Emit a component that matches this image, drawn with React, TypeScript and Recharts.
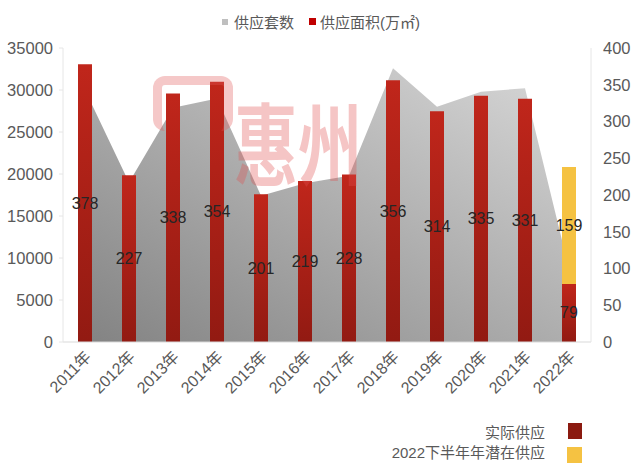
import React from 'react';
import { ComposedChart, Area, Bar, XAxis, YAxis, LabelList } from 'recharts';

// 年份
const years = ['2011年', '2012年', '2013年', '2014年', '2015年', '2016年', '2017年', '2018年', '2019年', '2020年', '2021年', '2022年'];
// 供应套数 (左轴)
const units = [30000, 19000, 27900, 29000, 17400, 18900, 19800, 32600, 28000, 29800, 30200, 8700];
// 供应面积 (万㎡, 右轴) - 实际供应
const actualArea = [378, 227, 338, 354, 201, 219, 228, 356, 314, 335, 331, 79];
// 2022下半年潜在供应
const potentialArea = [null, null, null, null, null, null, null, null, null, null, null, 159];

const leftTicks = [0, 5000, 10000, 15000, 20000, 25000, 30000, 35000];
const rightTicks = [0, 50, 100, 150, 200, 250, 300, 350, 400];

const FONT = 'Arial, "Liberation Sans", "Noto Sans CJK SC", sans-serif';

const chartData = years.map((year, i) => ({
  year,
  units: units[i],
  actual: actualArea[i],
  potential: potentialArea[i],
}));

const XTick = ({ x, y, payload }: any) => (
  <text
    x={0}
    y={0}
    transform={`translate(${x + 7}, ${y + 8}) rotate(-45)`}
    textAnchor="end"
    fontSize={16}
    fontFamily={FONT}
    fill="#595959"
  >
    {payload.value}
  </text>
);

const renderLabel = (props: any) => {
  const { x, y, width, height, value } = props;
  if (value === null || value === undefined) return null;
  return (
    <text
      x={x + width / 2}
      y={y + height / 2}
      textAnchor="middle"
      dominantBaseline="central"
      fontSize={16}
      fontFamily={FONT}
      fill="#262626"
    >
      {value}
    </text>
  );
};

export default function App() {
  return (
    <div style={{ position: 'absolute', left: 0, top: 0, width: 640, height: 476, background: '#fff', fontFamily: FONT, overflow: 'hidden' }}>
      {/* 顶部图例 */}
      <div style={{ position: 'absolute', top: 11, left: 222, display: 'flex', alignItems: 'center', fontSize: 15, color: '#595959', whiteSpace: 'nowrap' }}>
        <span style={{ width: 6, height: 6, background: '#bfbfbf', marginRight: 6 }} />
        <span>供应套数</span>
        <span style={{ width: 7, height: 7, background: '#c00000', marginLeft: 15, marginRight: 4 }} />
        <span>供应面积(万㎡)</span>
      </div>

      <ComposedChart width={640} height={410} data={chartData} margin={{ top: 48, right: 0, bottom: 0, left: 0 }}>
        <defs>
          <linearGradient id="areaFill" x1="0" y1="1" x2="1" y2="0">
            <stop offset="0%" stopColor="#838383" />
            <stop offset="100%" stopColor="#d8d8d8" />
          </linearGradient>
          <linearGradient id="barFill" x1="0" y1="0" x2="0" y2="1">
            <stop offset="0%" stopColor="#c0261b" />
            <stop offset="100%" stopColor="#921a12" />
          </linearGradient>
        </defs>
        <XAxis
          dataKey="year"
          height={68}
          tick={<XTick />}
          tickLine={false}
          axisLine={{ stroke: '#d9d9d9' }}
          interval={0}
        />
        <YAxis
          yAxisId="left"
          width={63}
          domain={[0, 35000]}
          ticks={leftTicks}
          tick={{ fontSize: 16.5, fill: '#595959', fontFamily: FONT }}
          tickLine={{ stroke: '#e6e6e6' }}
          axisLine={{ stroke: '#e6e6e6' }}
          tickSize={4}
          tickMargin={6}
        />
        <YAxis
          yAxisId="right"
          orientation="right"
          width={49}
          domain={[0, 400]}
          ticks={rightTicks}
          tick={{ fontSize: 16.5, fill: '#595959', fontFamily: FONT }}
          tickLine={false}
          axisLine={{ stroke: '#e6e6e6' }}
          tickMargin={6}
        />
        <Area
          yAxisId="left"
          type="linear"
          dataKey="units"
          stroke="none"
          fill="url(#areaFill)"
          fillOpacity={1}
          isAnimationActive={false}
        />
        <Bar yAxisId="right" dataKey="actual" stackId="s" barSize={14} fill="url(#barFill)" isAnimationActive={false}>
          <LabelList dataKey="actual" content={renderLabel} />
        </Bar>
        <Bar yAxisId="right" dataKey="potential" stackId="s" barSize={14} fill="#f5c242" isAnimationActive={false}>
          <LabelList dataKey="potential" content={renderLabel} />
        </Bar>
      </ComposedChart>

      {/* 水印 */}
      <div style={{ position: 'absolute', left: 153, top: 76, width: 62, height: 46, border: '9px solid rgba(225,90,90,0.33)', borderBottom: 'none', borderRadius: 12, pointerEvents: 'none' }} />
      <div style={{ position: 'absolute', left: 234, top: 95, fontSize: 64, color: 'rgba(225,80,80,0.33)', fontFamily: '"Noto Sans CJK SC", sans-serif', fontWeight: 700, pointerEvents: 'none', lineHeight: 1, transform: 'scaleY(1.4)', transformOrigin: 'top left', whiteSpace: 'nowrap' }}>
        惠州
      </div>

      {/* 底部图例 */}
      <div style={{ position: 'absolute', right: 95, top: 423, textAlign: 'right', fontSize: 15, color: '#595959', lineHeight: '20px' }}>
        <div>实际供应</div>
        <div>2022下半年年潜在供应</div>
      </div>
      <div style={{ position: 'absolute', left: 568, top: 423, width: 14, height: 16, background: '#8b1a10' }} />
      <div style={{ position: 'absolute', left: 567, top: 447, width: 15, height: 16, background: '#f5c242' }} />
    </div>
  );
}
